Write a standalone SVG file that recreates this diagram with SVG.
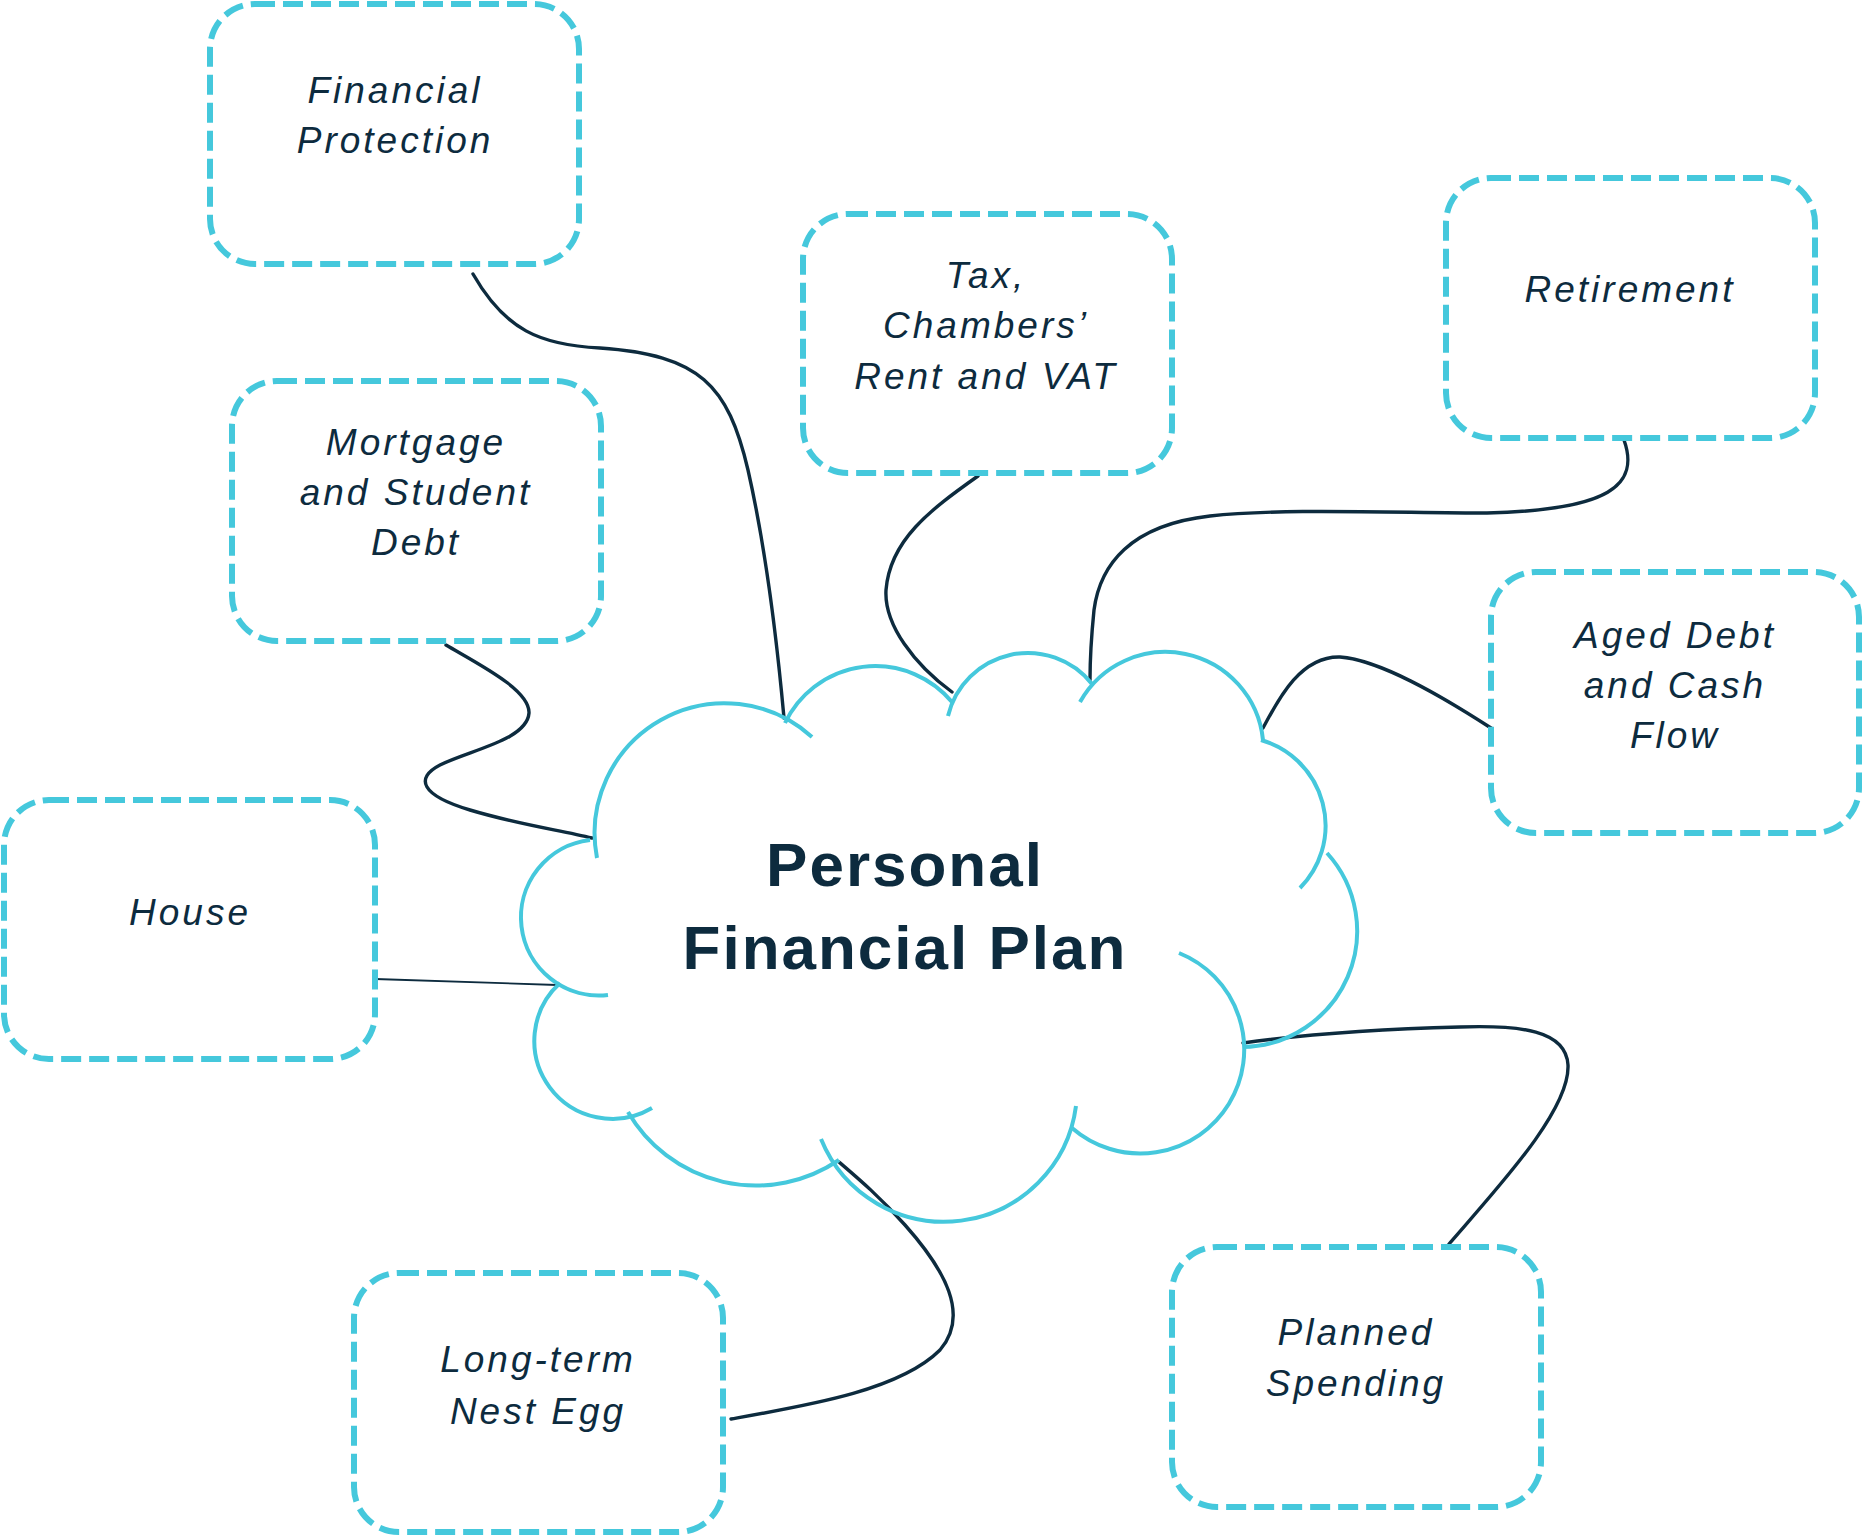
<svg xmlns="http://www.w3.org/2000/svg" width="1865" height="1537" viewBox="0 0 1865 1537">
<style>
.box{fill:none;stroke:#45c8dc;stroke-width:6;stroke-dasharray:20 8}
.lbl{font-family:"Liberation Sans",Arial,sans-serif;font-style:italic;font-size:37px;letter-spacing:3px;fill:#0d2b3e;text-anchor:middle}
.title{font-family:"Liberation Sans",Arial,sans-serif;font-weight:bold;font-size:62px;letter-spacing:2px;fill:#0d2b3e;text-anchor:middle}
.cloud{fill:none;stroke:#45c8dc;stroke-width:4;stroke-linecap:butt}
.con{fill:none;stroke:#0d2b3e;stroke-width:3.4;stroke-linecap:round}
</style>
<rect width="1865" height="1537" fill="#ffffff"/>
<g id="connectors">
<path class="con" d="M473,274 C505,330 540,345 600,348 C700,355 728,385 748,470 C765,545 776,630 784,718"/>
<path class="con" d="M446,645 C480,665 530,690 529,713 C527,740 470,750 440,765 C415,778 420,795 470,810 C520,825 560,830 592,838"/>
<path class="con" style="stroke-width:1.8" d="M375,979 L557,985"/>
<path class="con" d="M731,1419 C810,1405 900,1390 940,1350 C970,1315 945,1270 905,1225 C880,1197 860,1180 839,1162"/>
<path class="con" d="M978,476 C930,510 890,540 886,590 C884,625 915,665 952,692"/>
<path class="con" d="M1624,440 C1640,485 1610,510 1487,513 C1400,513 1280,508 1210,516 C1130,525 1100,565 1094,610 C1091,640 1090,660 1090,680"/>
<path class="con" d="M1491,728 C1440,695 1380,660 1340,657 C1300,656 1278,700 1263,728"/>
<path class="con" d="M1449,1244 C1500,1185 1570,1110 1568,1065 C1566,1030 1520,1025 1460,1027 C1380,1029 1300,1035 1243,1043"/>
</g>
<g id="cloud">
<path class="cloud" d="M597,858 A130,130 0 0 1 812,737"/>
<path class="cloud" d="M785,723 A100,100 0 0 1 952,702"/>
<path class="cloud" d="M948,716 A82,82 0 0 1 1092,684"/>
<path class="cloud" d="M1080,702 A98,98 0 0 1 1263,740"/>
<path class="cloud" d="M1261,740 A89,89 0 0 1 1300,888"/>
<path class="cloud" d="M1327,853 A116,116 0 0 1 1243,1047"/>
<path class="cloud" d="M1179,953 A104,104 0 1 1 1072,1128"/>
<path class="cloud" d="M1076,1106 A133,133 0 0 1 821,1139"/>
<path class="cloud" d="M839,1160 A148,148 0 0 1 628,1112"/>
<path class="cloud" d="M652,1108 A78,78 0 0 1 560,983"/>
<path class="cloud" d="M608,995 A78,78 0 1 1 590,840"/>
<text class="title" x="905" y="886">Personal</text>
<text class="title" x="905" y="969">Financial Plan</text>
</g>
<g id="financial-protection">
<rect class="box" x="210" y="4" width="369" height="260" rx="45"/>
<text class="lbl" x="395" y="103">Financial</text>
<text class="lbl" x="395" y="153">Protection</text>
</g>
<g id="mortgage">
<rect class="box" x="232" y="381" width="369" height="260" rx="45"/>
<text class="lbl" x="416" y="455">Mortgage</text>
<text class="lbl" x="416" y="505">and Student</text>
<text class="lbl" x="416" y="555">Debt</text>
</g>
<g id="house">
<rect class="box" x="4" y="800" width="371" height="259" rx="45"/>
<text class="lbl" x="190" y="925">House</text>
</g>
<g id="nest-egg">
<rect class="box" x="354" y="1273" width="369" height="259" rx="45"/>
<text class="lbl" x="538" y="1372">Long-term</text>
<text class="lbl" x="538" y="1424">Nest Egg</text>
</g>
<g id="tax">
<rect class="box" x="803" y="214" width="369" height="259" rx="45"/>
<text class="lbl" x="986" y="288">Tax,</text>
<text class="lbl" x="986" y="338">Chambers’</text>
<text class="lbl" x="986" y="389">Rent and VAT</text>
</g>
<g id="retirement">
<rect class="box" x="1446" y="178" width="369" height="260" rx="45"/>
<text class="lbl" x="1630" y="302">Retirement</text>
</g>
<g id="aged-debt">
<rect class="box" x="1491" y="572" width="368" height="261" rx="45"/>
<text class="lbl" x="1675" y="648">Aged Debt</text>
<text class="lbl" x="1675" y="698">and Cash</text>
<text class="lbl" x="1675" y="748">Flow</text>
</g>
<g id="planned-spending">
<rect class="box" x="1172" y="1247" width="369" height="260" rx="45"/>
<text class="lbl" x="1356" y="1345">Planned</text>
<text class="lbl" x="1356" y="1396">Spending</text>
</g>
</svg>
